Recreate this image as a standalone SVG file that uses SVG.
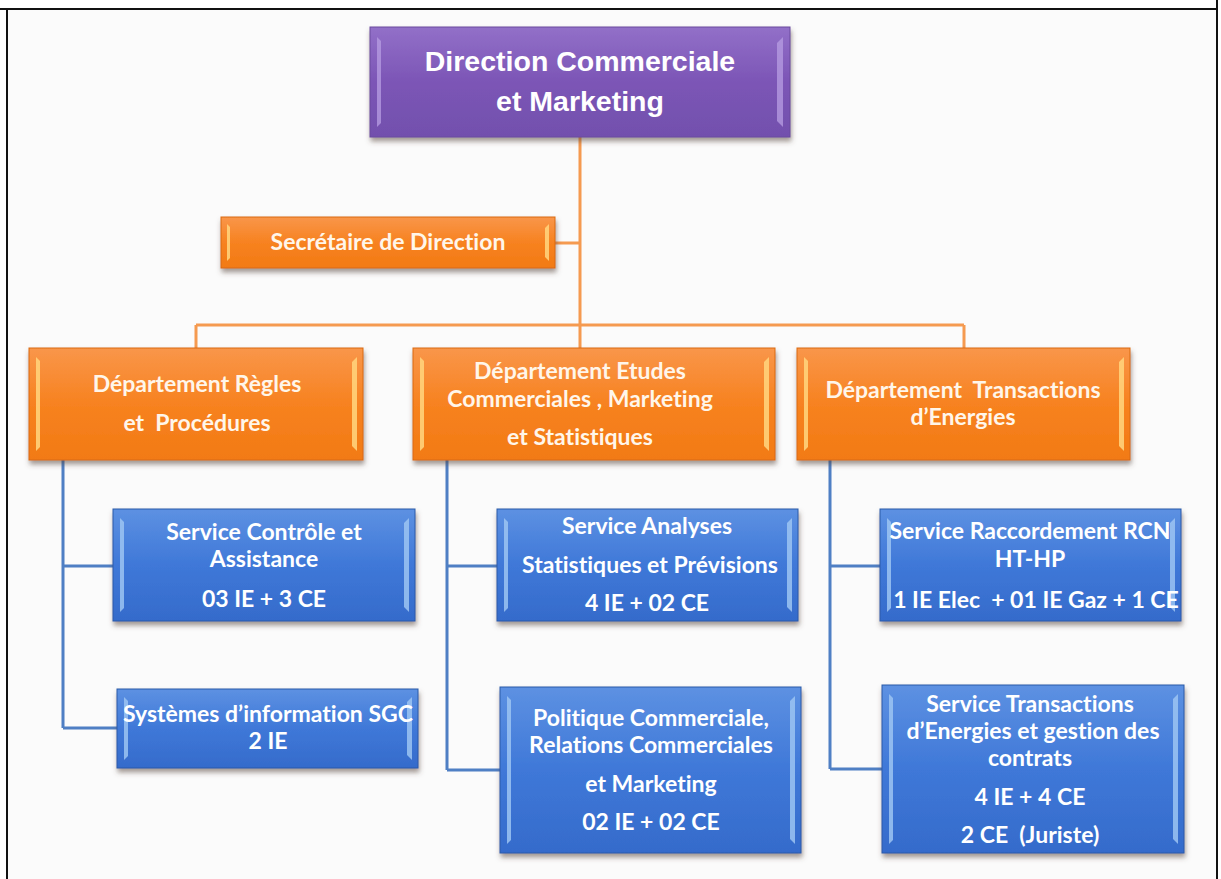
<svg xmlns="http://www.w3.org/2000/svg" width="1221" height="879" viewBox="0 0 1221 879">
  <defs>
    <linearGradient id="gPurple" x1="0" y1="0" x2="0" y2="1">
      <stop offset="0" stop-color="#9270c8"/>
      <stop offset="0.5" stop-color="#7c55b6"/>
      <stop offset="1" stop-color="#7250ad"/>
    </linearGradient>
    <linearGradient id="gOrange" x1="0" y1="0" x2="0" y2="1">
      <stop offset="0" stop-color="#f9964a"/>
      <stop offset="0.5" stop-color="#f78220"/>
      <stop offset="1" stop-color="#f27a14"/>
    </linearGradient>
    <linearGradient id="gBlue" x1="0" y1="0" x2="0" y2="1">
      <stop offset="0" stop-color="#5d91e2"/>
      <stop offset="0.5" stop-color="#3f78d8"/>
      <stop offset="1" stop-color="#356bcb"/>
    </linearGradient>
    <filter id="shadow" x="-5%" y="-10%" width="110%" height="130%">
      <feDropShadow dx="1" dy="4" stdDeviation="2.5" flood-color="#5a4a40" flood-opacity="0.55"/>
    </filter>
  </defs>
  <style>
    .frame { fill: none; stroke: #111; stroke-width: 2; }
    .orangeLink { fill: none; stroke: #f59a50; stroke-width: 3; }
    .blueLink { fill: none; stroke: #4f7fc4; stroke-width: 3; }
    .purple { fill: url(#gPurple); stroke: #6a4a9e; stroke-width: 1; filter: url(#shadow); }
    .orange { fill: url(#gOrange); stroke: #d96a10; stroke-width: 1; filter: url(#shadow); }
    .blue { fill: url(#gBlue); stroke: #2a5aa8; stroke-width: 1; filter: url(#shadow); }
    .hiP { fill: #b49ae0; opacity: 0.8; }
    .hiO { fill: #ffd27a; opacity: 0.9; }
    .hiB { fill: #9cc4f2; opacity: 0.85; }
    text { font-variant-ligatures: none; }
    .title { font-family: "Liberation Sans", Arial, sans-serif; font-weight: bold; font-size: 28.5px; fill: #ffffff; text-anchor: middle; }
    .lbl { font-family: Lato, "Open Sans", sans-serif; font-weight: bold; font-size: 23px; fill: #fff6ea; text-anchor: middle; }
    .lblB { font-family: Lato, "Open Sans", sans-serif; font-weight: bold; font-size: 23px; fill: #ffffff; text-anchor: middle; }
  </style>

  <!-- page background and frame -->
  <rect x="0" y="0" width="1221" height="879" fill="#ffffff"/>
  <rect x="7" y="9" width="1210" height="870" fill="#fbfbfb"/>
  <path class="frame" d="M0 9 H1217 M7 9 V879 M1217 0 V879"/>

  <!-- connectors -->
  <g id="connectors">
    <path class="orangeLink" d="M580 137 V325 M555 243 H580 M196 325 H964 M196 325 V348 M580 325 V348 M964 325 V348"/>
    <path class="blueLink" d="M63 460 V728 M63 566 H113 M63 728 H117"/>
    <path class="blueLink" d="M447 460 V770 M447 566 H497 M447 770 H500"/>
    <path class="blueLink" d="M830 460 V769 M830 566 H880 M830 769 H882"/>
  </g>

  <!-- top management -->
  <g id="direction">
    <rect class="purple" x="370" y="27" width="420" height="110"/>
    <path class="hiP" d="M377 37 L381 41 V123 L377 127 Z"/>
    <path class="hiP" d="M783 37 L777 43 V121 L783 127 Z"/>
    <text class="title" x="580" y="71">Direction Commerciale</text>
    <text class="title" x="580" y="111">et Marketing</text>
  </g>

  <g id="secretaire">
    <rect class="orange" x="221" y="217" width="334" height="51"/>
    <path class="hiO" d="M227 224 L230 227 V258 L227 261 Z"/>
    <path class="hiO" d="M549 224 L545 228 V257 L549 261 Z"/>
    <text class="lbl" x="388" y="250">Secrétaire de Direction</text>
  </g>

  <!-- departments -->
  <g id="dept-regles">
    <rect class="orange" x="29" y="348" width="334" height="112"/>
    <path class="hiO" d="M36 357 L40 361 V447 L36 451 Z"/>
    <path class="hiO" d="M357 357 L352 362 V446 L357 451 Z"/>
    <text class="lbl" x="197" y="392">Département Règles</text>
    <text class="lbl" x="197" y="431" xml:space="preserve">et  Procédures</text>
  </g>

  <g id="dept-etudes">
    <rect class="orange" x="413" y="348" width="362" height="112"/>
    <path class="hiO" d="M420 357 L424 361 V447 L420 451 Z"/>
    <path class="hiO" d="M769 357 L764 362 V446 L769 451 Z"/>
    <text class="lbl" x="580" y="379">Département Etudes</text>
    <text class="lbl" x="580" y="407">Commerciales , Marketing</text>
    <text class="lbl" x="580" y="445">et Statistiques</text>
  </g>

  <g id="dept-transactions">
    <rect class="orange" x="797" y="348" width="333" height="112"/>
    <path class="hiO" d="M804 357 L808 361 V447 L804 451 Z"/>
    <path class="hiO" d="M1124 357 L1119 362 V446 L1124 451 Z"/>
    <text class="lbl" x="963" y="398" xml:space="preserve">Département  Transactions</text>
    <text class="lbl" x="963" y="425">d’Energies</text>
  </g>

  <!-- services -->
  <g id="svc-controle">
    <rect class="blue" x="113" y="509" width="302" height="112"/>
    <path class="hiB" d="M120 518 L124 522 V608 L120 612 Z"/>
    <path class="hiB" d="M409 518 L404 523 V607 L409 612 Z"/>
    <text class="lblB" x="264" y="540">Service Contrôle et</text>
    <text class="lblB" x="264" y="567">Assistance</text>
    <text class="lblB" x="264" y="607">03 IE + 3 CE</text>
  </g>

  <g id="svc-si">
    <rect class="blue" x="117" y="689" width="301" height="79"/>
    <path class="hiB" d="M124 697 L128 701 V756 L124 760 Z"/>
    <path class="hiB" d="M412 697 L407 702 V755 L412 760 Z"/>
    <text class="lblB" x="268" y="722">Systèmes d’information SGC</text>
    <text class="lblB" x="268" y="749">2 IE</text>
  </g>

  <g id="svc-analyses">
    <rect class="blue" x="497" y="509" width="301" height="112"/>
    <path class="hiB" d="M504 518 L508 522 V608 L504 612 Z"/>
    <path class="hiB" d="M792 518 L787 523 V607 L792 612 Z"/>
    <text class="lblB" x="647" y="534">Service Analyses</text>
    <text class="lblB" x="650" y="573">Statistiques et Prévisions</text>
    <text class="lblB" x="647" y="611">4 IE + 02 CE</text>
  </g>

  <g id="svc-politique">
    <rect class="blue" x="500" y="687" width="301" height="166"/>
    <path class="hiB" d="M507 696 L511 700 V840 L507 844 Z"/>
    <path class="hiB" d="M795 696 L790 701 V839 L795 844 Z"/>
    <text class="lblB" x="651" y="726">Politique Commerciale,</text>
    <text class="lblB" x="651" y="753">Relations Commerciales</text>
    <text class="lblB" x="651" y="792">et Marketing</text>
    <text class="lblB" x="651" y="830">02 IE + 02 CE</text>
  </g>

  <g id="svc-raccordement">
    <rect class="blue" x="880" y="509" width="301" height="112"/>
    <path class="hiB" d="M887 518 L891 522 V608 L887 612 Z"/>
    <path class="hiB" d="M1175 518 L1170 523 V607 L1175 612 Z"/>
    <text class="lblB" x="1030" y="539">Service Raccordement RCN</text>
    <text class="lblB" x="1030" y="567">HT-HP</text>
    <text class="lblB" x="1036" y="608" xml:space="preserve">1 IE Elec  + 01 IE Gaz + 1 CE</text>
  </g>

  <g id="svc-contrats">
    <rect class="blue" x="882" y="685" width="302" height="168"/>
    <path class="hiB" d="M889 694 L893 698 V840 L889 844 Z"/>
    <path class="hiB" d="M1178 694 L1173 699 V839 L1178 844 Z"/>
    <text class="lblB" x="1030" y="712">Service Transactions</text>
    <text class="lblB" x="1033" y="739">d’Energies et gestion des</text>
    <text class="lblB" x="1030" y="766">contrats</text>
    <text class="lblB" x="1030" y="805">4 IE + 4 CE</text>
    <text class="lblB" x="1030" y="843" xml:space="preserve">2 CE  (Juriste)</text>
  </g>
</svg>
